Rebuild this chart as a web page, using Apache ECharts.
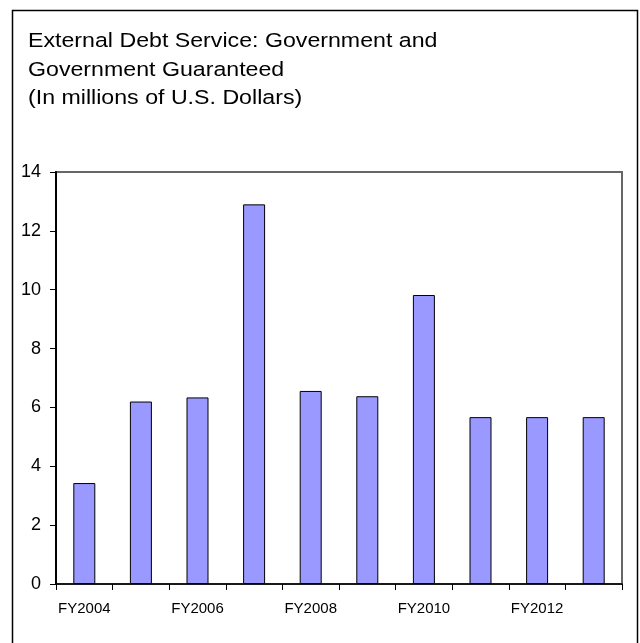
<!DOCTYPE html>
<html>
<head>
<meta charset="utf-8">
<script src="https://cdn.jsdelivr.net/npm/echarts@6/dist/echarts.min.js"></script>
<style>
  html, body { margin: 0; padding: 0; background: #fff; }
  #chart { width: 640px; height: 643px; }
</style>
</head>
<body>
<div id="chart"></div>
<script>
// Fiscal years on the category axis
const years = ['FY2004', 'FY2005', 'FY2006', 'FY2007', 'FY2008', 'FY2009', 'FY2010', 'FY2011', 'FY2012', 'FY2013'];
// Debt service, millions of U.S. dollars
const debtService = [3.43, 6.2, 6.34, 12.9, 6.56, 6.38, 9.82, 5.67, 5.67, 5.67];
// Value axis range
const yMin = 0;
const yMax = 14;
const yStep = 2;

const titleLines = [
  'External Debt Service: Government and',
  'Government Guaranteed',
  '(In millions of U.S. Dollars)'
];

const font = '"Liberation Sans", Arial, sans-serif';
const chart = echarts.init(document.getElementById('chart'), null, { renderer: 'canvas' });

chart.setOption({
  animation: false,
  backgroundColor: '#ffffff',
  graphic: [
    {
      // frame around the whole figure
      type: 'rect',
      shape: { x: 12.5, y: 10.5, width: 625, height: 660 },
      style: { fill: 'none', stroke: '#000', lineWidth: 1.5 },
      silent: true
    },
    {
      // three-line heading, slightly widened
      type: 'text',
      x: 28,
      y: 27.5,
      scaleX: 1.13,
      style: {
        text: titleLines.join('\n'),
        fontFamily: font,
        fontSize: 20.5,
        lineHeight: 28.5,
        fill: '#000',
        textVerticalAlign: 'top',
        verticalAlign: 'top'
      },
      silent: true
    }
  ],
  grid: {
    left: 56,
    right: 18,
    top: 172,
    bottom: 59,
    show: true,
    borderColor: '#666',
    borderWidth: 2,
    backgroundColor: 'transparent'
  },
  xAxis: {
    type: 'category',
    data: years,
    boundaryGap: true,
    axisLine: { show: true, lineStyle: { color: '#000', width: 1.5 } },
    axisTick: { show: true, alignWithLabel: false, interval: 0, length: 6, lineStyle: { color: '#000', width: 1 } },
    axisLabel: {
      interval: 1,
      fontFamily: font,
      fontSize: 15,
      color: '#000',
      margin: 17
    },
    splitLine: { show: false }
  },
  yAxis: {
    type: 'value',
    min: yMin,
    max: yMax,
    interval: yStep,
    axisLine: { show: true, lineStyle: { color: '#000', width: 2 } },
    axisTick: { show: true, length: 6, lineStyle: { color: '#000', width: 1 } },
    axisLabel: {
      fontFamily: font,
      fontSize: 18,
      color: '#000',
      margin: 15
    },
    splitLine: { show: false }
  },
  series: [{
    type: 'bar',
    data: debtService,
    barWidth: 22,
    itemStyle: {
      color: '#9999ff',
      borderColor: '#000',
      borderWidth: 1
    }
  }]
});
</script>
</body>
</html>
